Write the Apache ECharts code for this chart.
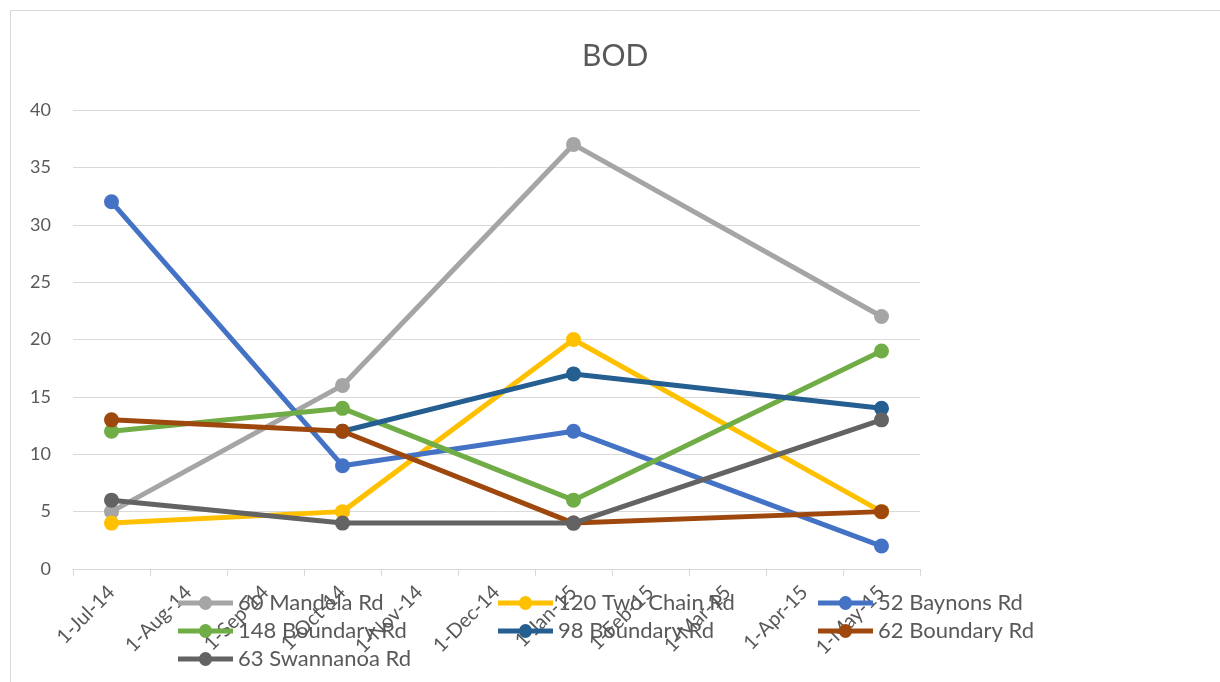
<!DOCTYPE html>
<html><head><meta charset="utf-8">
<script src="https://cdn.jsdelivr.net/npm/echarts@6/dist/echarts.min.js"></script>
<style>html,body{margin:0;padding:0;background:#fff}#c{width:1220px;height:682px}</style>
</head><body><div id="c"></div>
<script>
const categories = ['1-Jul-14','1-Aug-14','1-Sep-14','1-Oct-14','1-Nov-14','1-Dec-14','1-Jan-15','1-Feb-15','1-Mar-15','1-Apr-15','1-May-15'];
const mandela60   = [5, null, null, 16, null, null, 37, null, null, null, 22];
const twoChain120 = [4, null, null, 5, null, null, 20, null, null, null, 5];
const baynons52   = [32, null, null, 9, null, null, 12, null, null, null, 2];
const boundary148 = [12, null, null, 14, null, null, 6, null, null, null, 19];
const boundary98  = [null, null, null, 12, null, null, 17, null, null, null, 14];
const boundary62  = [13, null, null, 12, null, null, 4, null, null, null, 5];
const swannanoa63 = [6, null, null, 4, null, null, 4, null, null, null, 13];
const yTicks = {min: 0, max: 40, interval: 5};

const seriesDefs = [
  ['60 Mandela Rd', mandela60, '#A5A5A5'],
  ['120 Two Chain Rd', twoChain120, '#FFC000'],
  ['52 Baynons Rd', baynons52, '#4472C4'],
  ['148 Boundary Rd', boundary148, '#70AD47'],
  ['98 Boundary Rd', boundary98, '#255E91'],
  ['62 Boundary Rd', boundary62, '#9E480E'],
  ['63 Swannanoa Rd', swannanoa63, '#636363']
];
const legendPos = [[178,592],[498,592],[818,592],[178,620],[498,620],[818,620],[178,648]];
const legendIcon = 'path://M0,4.5 L55,4.5 L55,9.5 L0,9.5 Z M21,7 A6.5,7 0 1,1 34,7 A6.5,7 0 1,1 21,7 Z';
const FONT = 'Lato';
const chart = echarts.init(document.getElementById('c'), null, {renderer:'canvas'});
chart.setOption({
  animation: false,
  backgroundColor: '#fff',
  textStyle: {fontFamily: FONT},
  graphic: [{type:'rect', shape:{x:10.5,y:10.5,width:1230,height:700}, style:{fill:'none', stroke:'#d9d9d9', lineWidth:1}, z:-1}],
  title: {text: 'BOD', left: 577, top: 36, textStyle:{fontFamily: FONT, fontSize: 30, fontWeight: 'normal', color:'#595959'}},
  grid: {left: 73, top: 110, width: 847, height: 459, containLabel: false},
  xAxis: {
    type: 'category', data: categories, boundaryGap: true,
    axisLine: {lineStyle:{color:'#d9d9d9', width:1}},
    axisTick: {show:true, length:7, lineStyle:{color:'#d9d9d9'}},
    axisLabel: {rotate: 45, color:'#595959', fontSize: 20, fontFamily: FONT, margin: 20, interval: 0}
  },
  yAxis: {
    type: 'value', min: yTicks.min, max: yTicks.max, interval: yTicks.interval,
    axisLine: {show:false}, axisTick:{show:false},
    splitLine: {lineStyle:{color:'#d9d9d9', width:1}},
    axisLabel: {color:'#595959', fontSize: 18, fontFamily: FONT, margin: 22}
  },
  legend: seriesDefs.map((s,i) => ({
    data: [{name: s[0], icon: legendIcon}], left: legendPos[i][0], top: legendPos[i][1], padding: 0,
    itemWidth: 55, itemHeight: 14, itemGap: 0,
    textStyle: {color:'#595959', fontSize: 22, fontFamily: FONT}
  })),
  series: seriesDefs.map((s,i) => ({
    name: s[0], type: 'line', data: s[1], connectNulls: true,
    symbol: 'circle', symbolSize: 15,
    lineStyle: {color: s[2], width: 5},
    itemStyle: {color: s[2]},
    z: 2 + i
  }))
});
</script></body></html>
